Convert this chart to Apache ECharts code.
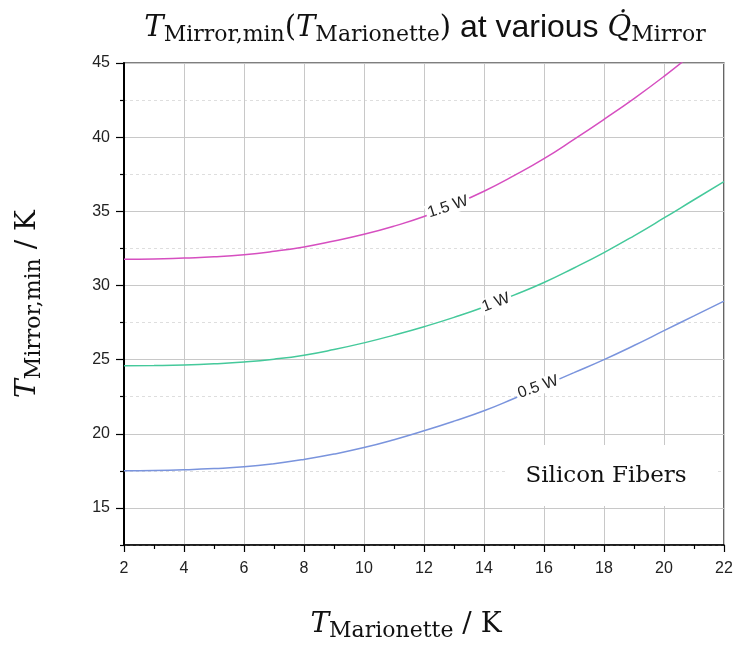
<!doctype html>
<html>
    <head>
        <meta charset="utf-8">
        <style>
            html, body { margin: 0; padding: 0; background: #fff; }
            #main { width: 736px; height: 647px; }
        </style>
    </head>
    <body>
        <div id="main"></div>
        <script src="https://cdn.jsdelivr.net/npm/echarts@6/dist/echarts.min.js"></script>
        <script>
            var chart = echarts.init(document.getElementById('main'));

            // T_Marionette (K)
            var tMarionette = [2, 3, 4, 5, 6, 7, 8, 9, 10, 11, 12, 13, 14, 15, 16, 17, 18, 19, 20, 21, 22];
            // T_Mirror,min (K) for each heat load
            var mirror05W = [17.5, 17.52, 17.57, 17.65, 17.77, 17.98, 18.27, 18.63, 19.07, 19.6, 20.2,
                             20.85, 21.55, 22.38, 23.25, 24.12, 25.0, 25.95, 26.95, 27.95, 28.94];
            var mirror1W = [24.58, 24.6, 24.64, 24.72, 24.84, 25.03, 25.3, 25.68, 26.13, 26.65, 27.22,
                            27.85, 28.55, 29.35, 30.2, 31.18, 32.22, 33.35, 34.55, 35.78, 37.0];
            var mirror15W = [31.76, 31.78, 31.85, 31.93, 32.07, 32.3, 32.6, 33.0, 33.45, 34.0, 34.65,
                             35.45, 36.35, 37.4, 38.55, 39.85, 41.2, 42.6, 44.1, 45.7, 47.3];
            var seriesNames = ['0.5 W', '1 W', '1.5 W'];
            var seriesColors = ['#7a94dd', '#45c99b', '#d64fc0'];
            // where each curve label sits [x, y, rotation]
            var labelPos = [[15.8, 23.15, 19], [14.4, 28.85, 21], [12.8, 35.3, 18]];
            // y-axis ticks
            var yMajorTicks = [15, 20, 25, 30, 35, 40, 45];
            var yMinorTicks = [12.5, 17.5, 22.5, 27.5, 32.5, 37.5, 42.5];

            function pairs(ys) {
                return tMarionette.map(function (x, i) { return [x, ys[i]]; });
            }

            var serif = '"DejaVu Serif", "Liberation Serif", serif';
            var sans = '"Liberation Sans", Arial, sans-serif';
            function mathRich(size, sub, sansSize) {
                return {
                    t: { fontFamily: serif, fontStyle: 'italic', fontWeight: 'normal', fontSize: size, color: '#111', lineHeight: size + 6, verticalAlign: 'middle' },
                    s: { fontFamily: serif, fontWeight: 'normal', fontSize: sub, color: '#111', lineHeight: sub, verticalAlign: 'bottom' },
                    p: { fontFamily: serif, fontWeight: 'normal', fontSize: size, color: '#111', lineHeight: size + 6, verticalAlign: 'middle' },
                    a: { fontFamily: sans, fontWeight: 'normal', fontSize: sansSize || size, color: '#111', lineHeight: size + 6, verticalAlign: 'middle' }
                };
            }

            var data = [mirror05W, mirror1W, mirror15W];
            var series = data.map(function (ys, k) {
                return {
                    name: seriesNames[k],
                    type: 'line',
                    data: pairs(ys),
                    smooth: true,
                    showSymbol: false,
                    clip: true,
                    lineStyle: { color: seriesColors[k], width: 1.5 },
                    markPoint: {
                        symbol: 'rect',
                        symbolSize: 0,
                        silent: true,
                        data: [{ coord: [labelPos[k][0], labelPos[k][1]] }],
                        label: {
                            show: true,
                            position: 'inside',
                            formatter: seriesNames[k],
                            rotate: labelPos[k][2],
                            color: '#222',
                            fontFamily: sans,
                            fontSize: 16,
                            backgroundColor: '#fff',
                            padding: [0, 2]
                        }
                    }
                };
            });

            chart.setOption({
                backgroundColor: '#fff',
                animation: false,
                title: {
                    text: '{t|T}{s|Mirror,min}{p|(}{t|T}{s|Marionette}{p|)}{a| at various }{t|Q\u0307}{s|Mirror}',
                    left: 420,
                    textAlign: 'center',
                    top: 6,
                    textStyle: { fontWeight: 'normal', rich: mathRich(29, 22, 32) }
                },
                grid: {
                    left: 124, right: 12, top: 63, bottom: 102,
                    outerBoundsMode: 'none',
                    show: true, borderColor: '#000', borderWidth: 1.2
                },
                xAxis: {
                    type: 'value',
                    min: 2, max: 22, interval: 2,
                    name: '{t|T}{s|Marionette}{p| / K}',
                    nameLocation: 'middle',
                    nameGap: 63,
                    nameTextStyle: { padding: [0, 36, 0, 0], rich: mathRich(28, 22) },
                    axisLine: { lineStyle: { color: '#000', width: 1.5 } },
                    axisTick: { length: 7, lineStyle: { color: '#000', width: 1.2 } },
                    minorTick: { show: true, splitNumber: 2, length: 4, lineStyle: { color: '#000', width: 1.2 } },
                    axisLabel: { color: '#222', fontFamily: sans, fontSize: 16, margin: 16 },
                    splitLine: { show: true, lineStyle: { color: '#c8c8c8', width: 1 } }
                },
                yAxis: [{
                    type: 'value',
                    min: 12.5, max: 45, interval: 2.5,
                    name: '{t|T}{s|Mirror,min}{p| / K}',
                    nameLocation: 'middle',
                    nameRotate: 90,
                    nameGap: 79,
                    nameTextStyle: { rich: mathRich(28, 22) },
                    axisLine: { show: true, lineStyle: { color: '#000', width: 2 } },
                    axisTick: { length: 8, customValues: yMajorTicks, lineStyle: { color: '#000', width: 1.2 } },
                    axisLabel: { customValues: yMajorTicks, color: '#222', fontFamily: sans, fontSize: 16, margin: 14 },
                    splitLine: { show: true, lineStyle: { color: '#c8c8c8', width: 1 } }
                }, {
                    type: 'value',
                    min: 12.5, max: 45, interval: 2.5,
                    position: 'left',
                    axisLine: { show: false },
                    axisTick: { show: true, length: 4, customValues: yMinorTicks, lineStyle: { color: '#000', width: 1.2 } },
                    axisLabel: { show: false, customValues: yMinorTicks },
                    splitLine: { show: true, lineStyle: { color: '#dedede', type: [3, 3], width: 1 } }
                }],
                graphic: [{
                    type: 'rect',
                    shape: { x: 507, y: 445, width: 208, height: 61 },
                    style: { fill: '#fff' },
                    z: 5
                }, {
                    type: 'text',
                    x: 606, y: 476,
                    style: {
                        text: 'Silicon Fibers',
                        font: '23px ' + serif,
                        fill: '#111',
                        align: 'center',
                        verticalAlign: 'middle'
                    },
                    z: 6
                }],
                series: series
            });

            window.onresize = chart.resize;
        </script>
    </body>
</html>
